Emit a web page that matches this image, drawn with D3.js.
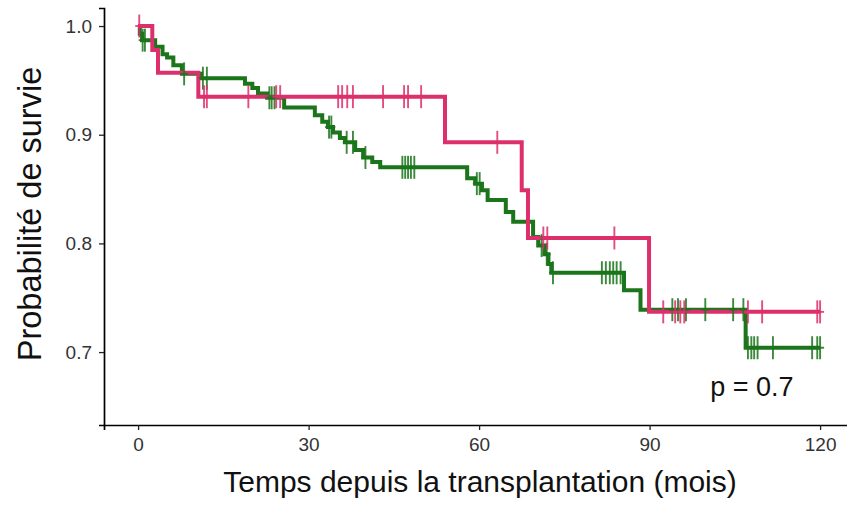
<!DOCTYPE html>
<html>
<head>
<meta charset="utf-8">
<script src="https://cdn.jsdelivr.net/npm/d3@7"></script>
<style>
  body { margin: 0; background: #fff; }
  text { font-family: "Liberation Sans", Arial, sans-serif; }
</style>
</head>
<body>
<svg id="chart"></svg>
<script>
let w = 847;
let h = 505;

// survival steps (time in months, survival after the drop)
let redTimes = [2.5, 3.5, 10.6, 54.0, 67.5, 68.6, 89.9];
let redSurv = [0.978, 0.957, 0.935, 0.893, 0.849, 0.805, 0.737];
let redCensor = [0.2, 11.6, 12.1, 19.4, 24.3, 25.0, 35.2, 35.9, 36.8, 37.8, 43.1, 46.8, 47.5, 49.8,
  63.2, 71.3, 72.0, 83.8, 92.4, 94.5, 95.4, 96.1, 107.3, 109.8, 119.5, 120.0];

let greenTimes = [0.3, 0.7, 3.0, 4.3, 5.1, 6.2, 7.7, 11.1, 18.8, 20.1, 21.1, 22.7, 25.7,
  31.1, 32.4, 33.4, 34.3, 35.5, 36.4, 38.2, 39.6, 41.2, 42.6,
  57.9, 59.3, 60.5, 61.5, 64.7, 66.0, 69.5, 70.4, 71.5, 72.2, 72.7, 85.5, 88.4, 106.9];
let greenSurv = [0.993, 0.987, 0.981, 0.974, 0.971, 0.964, 0.956, 0.952, 0.947, 0.943, 0.938, 0.934, 0.925,
  0.918, 0.912, 0.907, 0.902, 0.897, 0.893, 0.886, 0.879, 0.875, 0.870,
  0.860, 0.855, 0.849, 0.840, 0.829, 0.820, 0.806, 0.798, 0.790, 0.781, 0.773, 0.757, 0.739, 0.704];
let greenCensor = [0.8, 1.2, 8.1, 11.4, 12.1, 23.1, 23.5, 24.0, 33.6, 34.0, 36.7, 37.8, 40.0,
  46.5, 47.0, 47.5, 48.0, 48.6, 59.6, 60.1, 71.0, 71.9, 73.0,
  81.6, 82.3, 83.0, 83.6, 84.2, 84.9, 94.0, 95.0, 96.4, 99.8, 104.7, 106.5,
  107.3, 107.9, 108.4, 109.0, 111.7, 118.6, 119.5, 120.0];

let xTicks = [0, 30, 60, 90, 120];
let yTicks = [0.7, 0.8, 0.9, 1.0];
let maxTime = 120;
let pText = "p = 0.7";

let redColor = "#de2f6d";
let greenColor = "#1b751b";

let svg = d3.select("#chart").attr("width", w).attr("height", h);

let xScale = d3.scaleLinear().domain([-6, 126]).range([104, 854.2]);
let yScale = d3.scaleLinear().domain([0.6329, 1.0166]).range([425, 8]);

// axes
let xAxis = svg.append("g")
  .attr("transform", "translate(0,425)")
  .call(d3.axisBottom(xScale).tickValues(xTicks).tickSize(5).tickPadding(8).tickFormat(d3.format("d")));
let yAxis = svg.append("g")
  .attr("transform", "translate(104,0)")
  .call(d3.axisLeft(yScale).tickValues(yTicks).tickSize(5).tickPadding(7).tickFormat(d3.format(".1f")));

[xAxis, yAxis].forEach(function (a) {
  a.select(".domain").attr("stroke", "#000").attr("stroke-width", 1.7);
  a.selectAll(".tick line").attr("stroke", "#222").attr("stroke-width", 1.3);
  a.selectAll(".tick text").attr("fill", "#333").style("font-size", "19px");
});

svg.append("text")
  .attr("x", 480)
  .attr("y", 492)
  .attr("text-anchor", "middle")
  .style("font-size", "30px")
  .attr("fill", "#111")
  .text("Temps depuis la transplantation (mois)");

svg.append("text")
  .attr("transform", "translate(41,214) rotate(-90)")
  .attr("text-anchor", "middle")
  .style("font-size", "32.5px")
  .attr("fill", "#111")
  .text("Probabilité de survie");

function steps(times, surv) {
  let pts = [[0, 1]];
  times.forEach(function (t, i) { pts.push([t, surv[i]]); });
  pts.push([maxTime, surv[surv.length - 1]]);
  return pts;
}

function survAt(times, surv, t) {
  let s = 1;
  times.forEach(function (tt, i) { if (tt <= t) s = surv[i]; });
  return s;
}

let line = d3.line()
  .x(function (d) { return xScale(d[0]); })
  .y(function (d) { return yScale(d[1]); })
  .curve(d3.curveStepAfter);

let groups = [
  { times: greenTimes, surv: greenSurv, censor: greenCensor, color: greenColor },
  { times: redTimes, surv: redSurv, censor: redCensor, color: redColor }
];

groups.forEach(function (g) {
  svg.append("path")
    .datum(steps(g.times, g.surv))
    .attr("fill", "none")
    .attr("stroke", g.color)
    .attr("stroke-width", 4)
    .attr("d", line);
});

groups.forEach(function (g) {
  let marks = svg.append("g").selectAll("g")
    .data(g.censor)
    .enter()
    .append("g")
    .attr("transform", function (t) {
      return "translate(" + xScale(t) + "," + yScale(survAt(g.times, g.surv, t)) + ")";
    })
    .attr("stroke", g.color)
    .attr("stroke-width", 1.9)
    .attr("opacity", 0.85);
  marks.append("line").attr("x1", 0).attr("x2", 0).attr("y1", -11.5).attr("y2", 11.5);
  marks.append("line").attr("x1", -4).attr("x2", 4).attr("y1", 0).attr("y2", 0);
});

svg.append("text")
  .attr("x", xScale(108))
  .attr("y", yScale(0.66))
  .attr("text-anchor", "middle")
  .style("font-size", "27px")
  .attr("fill", "#111")
  .text(pText);
</script>
</body>
</html>
